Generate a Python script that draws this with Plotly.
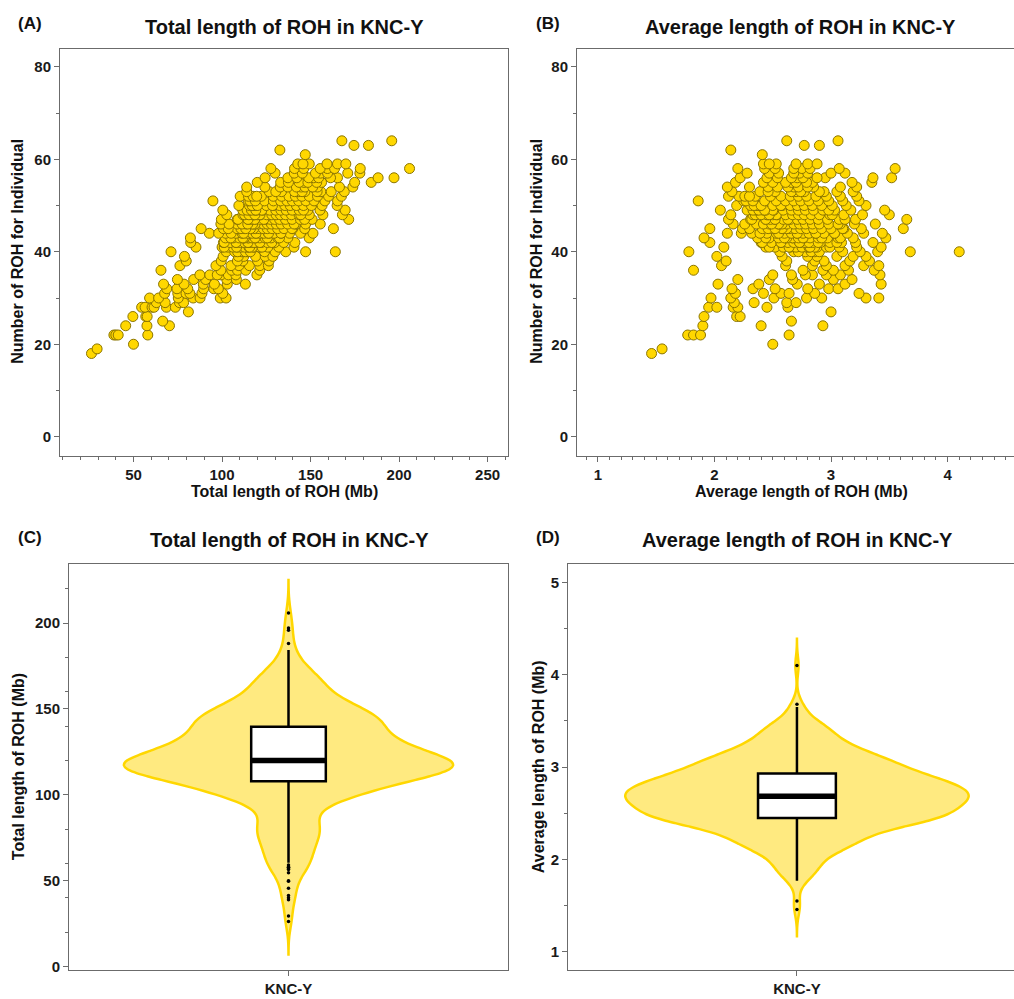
import numpy as np
import plotly.graph_objects as go

# ---- data: one entry per individual ----
# average ROH length (Mb) per individual
roh_avg = [
    1.46,
    1.55,
    2.50,
    1.77, 1.82, 1.88, 2.64,
    1.90, 2.40, 2.93,
    2.66,
    1.91, 2.19, 2.22,
    3.00,
    1.95, 2.02, 2.16, 2.20, 2.45, 2.63,
    2.17, 2.34, 2.62, 2.70,
    1.97, 2.14, 2.51, 2.79, 2.92, 3.30, 3.41,
    2.18, 2.42, 2.57, 2.64, 2.86, 3.24,
    2.15, 2.33, 2.52, 2.80, 2.98, 3.06,
    2.03, 2.38, 2.71, 2.90, 3.12, 3.43,
    2.20, 2.47, 2.67, 3.02, 3.18,
    2.84, 2.96, 2.50, 2.66, 2.78, 3.08, 3.42,
    1.82, 2.93, 3.02, 2.76, 3.15, 3.37,
    2.06, 2.96, 2.61, 2.84, 3.12, 3.28, 3.41,
    2.10, 2.94, 2.62, 2.86, 3.16, 3.33,
    2.02, 2.88, 2.58, 2.80, 3.05, 3.19, 3.30,
    1.78, 2.78, 2.86, 2.56, 2.68, 2.72, 2.83, 2.90, 3.10, 3.25, 3.40, 3.68, 4.10,
    2.08, 2.79, 2.44, 2.52, 2.59, 2.65, 2.70, 2.75, 2.81, 2.88, 2.96, 3.07, 3.22, 3.43,
    2.86, 2.47, 2.64, 2.82, 2.99,
    1.96, 2.74, 2.40, 2.49, 2.57, 2.63, 2.68, 2.73, 2.78, 2.84, 2.91, 2.99, 3.09, 3.21, 3.36,
    2.81, 2.41, 2.57, 2.73, 2.89, 3.05,
    1.91, 2.67, 2.37, 2.47, 2.55, 2.61, 2.67, 2.72, 2.77, 2.82, 2.89, 2.97, 3.06, 3.19, 3.47,
    2.62, 2.44, 2.60, 2.76, 2.92, 3.08,
    2.11, 2.32, 2.45, 2.53, 2.60, 2.66, 2.71, 2.76, 2.81, 2.87, 2.94, 3.03, 3.14, 3.28, 3.44,
    2.23, 2.39, 2.55, 2.71, 2.87, 3.03,
    1.96, 2.24, 2.41, 2.50, 2.58, 2.64, 2.69, 2.74, 2.79, 2.85, 2.92, 3.00, 3.11, 3.26, 3.62,
    2.30, 2.46, 2.62, 2.58, 2.52, 3.10,
    2.16, 2.36, 2.47, 2.55, 2.62, 2.68, 2.73, 2.78, 2.84, 2.90, 2.98, 3.08, 3.20, 3.38,
    2.26, 2.42, 2.58, 2.55, 2.49, 3.06,
    2.12, 2.31, 2.44, 2.52, 2.59, 2.65, 2.71, 2.76, 2.82, 2.89, 2.97, 3.07, 3.21, 3.65,
    2.32, 2.48, 2.63, 2.52, 2.44, 3.12,
    2.14, 2.33, 2.46, 2.54, 2.61, 2.67, 2.72, 2.77, 2.83, 2.90, 2.99, 3.11, 3.27, 3.50, 2.45, 2.50,
    2.35, 2.53, 2.40, 2.47, 3.01,
    2.05, 2.28, 2.42, 2.51, 2.59, 2.66, 2.72, 2.78, 2.85, 2.93, 3.03, 3.17, 3.46, 2.44, 2.36,
    2.33, 2.50, 2.38, 2.43, 2.98,
    2.19, 2.38, 2.50, 2.58, 2.65, 2.71, 2.77, 2.84, 2.92, 3.01, 3.13, 3.30, 2.31, 2.38,
    2.37, 2.57, 2.34, 2.40,
    1.86, 2.25, 2.43, 2.53, 2.61, 2.68, 2.74, 2.81, 2.89, 2.98, 3.10, 3.24, 2.27, 2.33,
    2.12, 2.35, 2.48, 2.57, 2.65, 2.72, 2.79, 2.87, 2.96, 3.08, 3.22, 2.21, 2.26, 2.30,
    2.15, 2.39, 2.52, 2.70, 2.77, 2.94, 3.05, 3.19, 2.46, 2.66, 2.74, 2.90,
    2.11, 2.30, 2.46, 2.68, 2.85, 3.08, 3.22, 2.54, 2.63, 2.72, 2.80,
    2.18, 2.42, 2.66, 2.84, 3.18, 3.35, 2.50, 2.61, 2.70, 2.79,
    2.22, 2.45, 2.71, 2.95, 3.36, 3.52, 2.54, 2.66, 2.76, 2.88,
    2.28, 2.47, 2.73, 3.00, 3.12, 2.55, 2.68, 2.80,
    2.20, 2.43, 2.75, 3.07, 3.55, 2.52, 2.68, 2.82,
    2.42, 2.53, 2.80, 2.88, 2.47, 2.70,
    2.41,
    2.14,
    2.77, 2.90,
    2.62, 3.06,
]

# number of ROH per individual (same order as roh_avg)
roh_count = [
    18,
    19,
    20,
    22, 22, 22, 22,
    24, 24, 24,
    25,
    26, 26, 26,
    27,
    28, 28, 28, 28, 28, 28,
    29, 29, 29, 29,
    30, 30, 30, 30, 30, 30, 30,
    31, 31, 31, 31, 31, 31,
    32, 32, 32, 32, 32, 32,
    33, 33, 33, 33, 33, 33,
    34, 34, 34, 34, 34,
    35, 35, 35, 35, 35, 35, 35,
    36, 36, 36, 36, 36, 36,
    37, 37, 37, 37, 37, 37, 37,
    38, 38, 38, 38, 38, 38,
    39, 39, 39, 39, 39, 39, 39,
    40, 40, 40, 40, 40, 40, 40, 40, 40, 40, 40, 40, 40,
    41, 41, 41, 41, 41, 41, 41, 41, 41, 41, 41, 41, 41, 41,
    41, 41, 41, 41, 41,
    42, 42, 42, 42, 42, 42, 42, 42, 42, 42, 42, 42, 42, 42, 42,
    42, 42, 42, 42, 42, 42,
    43, 43, 43, 43, 43, 43, 43, 43, 43, 43, 43, 43, 43, 43, 43,
    43, 43, 43, 43, 43, 43,
    44, 44, 44, 44, 44, 44, 44, 44, 44, 44, 44, 44, 44, 44, 44,
    44, 44, 44, 44, 44, 44,
    45, 45, 45, 45, 45, 45, 45, 45, 45, 45, 45, 45, 45, 45, 45,
    45, 45, 45, 45, 45, 45,
    46, 46, 46, 46, 46, 46, 46, 46, 46, 46, 46, 46, 46, 46,
    46, 46, 46, 46, 46, 46,
    47, 47, 47, 47, 47, 47, 47, 47, 47, 47, 47, 47, 47, 47,
    47, 47, 47, 47, 47, 47,
    48, 48, 48, 48, 48, 48, 48, 48, 48, 48, 48, 48, 48, 48, 48, 48,
    48, 48, 48, 48, 48,
    49, 49, 49, 49, 49, 49, 49, 49, 49, 49, 49, 49, 49, 49, 49,
    49, 49, 49, 49, 49,
    50, 50, 50, 50, 50, 50, 50, 50, 50, 50, 50, 50, 50, 50,
    50, 50, 50, 50,
    51, 51, 51, 51, 51, 51, 51, 51, 51, 51, 51, 51, 51, 51,
    52, 52, 52, 52, 52, 52, 52, 52, 52, 52, 52, 52, 52, 52,
    53, 53, 53, 53, 53, 53, 53, 53, 53, 53, 53, 53,
    54, 54, 54, 54, 54, 54, 54, 54, 54, 54, 54,
    55, 55, 55, 55, 55, 55, 55, 55, 55, 55,
    56, 56, 56, 56, 56, 56, 56, 56, 56, 56,
    57, 57, 57, 57, 57, 57, 57, 57,
    58, 58, 58, 58, 58, 58, 58, 58,
    59, 59, 59, 59, 59, 59,
    61,
    62,
    63, 63,
    64, 64,
]

panel_titles = ["Total length of ROH in KNC-Y", "Average length of ROH in KNC-Y",
                "Total length of ROH in KNC-Y", "Average length of ROH in KNC-Y"]
panel_tags = ["(A)", "(B)", "(C)", "(D)"]
group_label = "KNC-Y"

avg = np.array(roh_avg, dtype=float)
count = np.array(roh_count, dtype=float)
total = avg * count          # total ROH length = average length x number of ROH

W, H = 1014, 999
def px(x):
    return x / W
def py(y):
    return 1 - y / H

FONT = "Arial, Liberation Sans, sans-serif"
GOLD = "#FFD700"
EDGE = "#8B7500"
AXC = "#6b6b6b"

fig = go.Figure()
mk = dict(size=10, color=GOLD, line=dict(color=EDGE, width=1))
fig.add_trace(go.Scatter(x=total, y=count, mode="markers", marker=mk,
                         xaxis="x", yaxis="y", hoverinfo="skip"))
fig.add_trace(go.Scatter(x=avg, y=count, mode="markers", marker=mk,
                         xaxis="x2", yaxis="y2", hoverinfo="skip"))

def nrd0(v):
    v = np.asarray(v)
    sd = v.std(ddof=1)
    q75, q25 = np.percentile(v, [75, 25])
    return 0.9 * min(sd, (q75 - q25) / 1.34) * len(v) ** -0.2

shapes = []
for vals, xa, ya in [(total, "x3", "y3"), (avg, "x4", "y4")]:
    bw = nrd0(vals)
    pos = np.zeros(len(vals))
    fig.add_trace(go.Violin(x=pos, y=vals, xaxis=xa, yaxis=ya, bandwidth=bw,
                            spanmode="manual", span=[vals.min() - 3 * bw, vals.max() + 3 * bw],
                            width=0.75, scalemode="width", points=False,
                            fillcolor="#FFEA80", line=dict(color=GOLD, width=2.5),
                            box_visible=False, meanline_visible=False, hoverinfo="skip"))
    fig.add_trace(go.Box(x=pos, y=vals, xaxis=xa, yaxis=ya, width=0.17,
                         fillcolor="white", line=dict(color="black", width=2.5),
                         whiskerwidth=0, boxpoints="outliers", jitter=0, pointpos=0,
                         marker=dict(color="black", size=3.5), hoverinfo="skip"))
    med = float(np.median(vals))
    shapes.append(dict(type="line", xref=xa, yref=ya, x0=-0.085, x1=0.085, y0=med, y1=med,
                       line=dict(color="black", width=5.5)))

tickfont = dict(family=FONT, size=15, color="#1a1a1a", weight="bold")
common = dict(showgrid=False, zeroline=False, showline=True, linecolor=AXC, linewidth=1,
              ticks="outside", ticklen=5, tickwidth=1, tickcolor=AXC, tickfont=tickfont)

layout = dict(
    width=W, height=H, margin=dict(l=0, r=0, t=0, b=0),
    paper_bgcolor="white", plot_bgcolor="white", showlegend=False,
    xaxis=dict(domain=[px(60), px(508)], anchor="y", range=[8.5, 261.5],
               tickvals=[50, 100, 150, 200, 250], mirror=True,
               minor=dict(dtick=10, tick0=0, ticks="outside", ticklen=3, tickcolor=AXC), **common),
    yaxis=dict(domain=[py(458), py(49)], anchor="x", range=[-4.1, 83.9],
               tickvals=[0, 20, 40, 60, 80], mirror=True,
               minor=dict(dtick=10, tick0=0, ticks="outside", ticklen=3, tickcolor=AXC), **common),
    xaxis2=dict(domain=[px(577), 1.0], anchor="y2", range=[0.82, 4.57],
                tickvals=[1, 2, 3, 4], mirror=True,
                minor=dict(dtick=0.1, tick0=0, ticks="outside", ticklen=3, tickcolor=AXC), **common),
    yaxis2=dict(domain=[py(458), py(49)], anchor="x2", range=[-4.1, 83.9],
                tickvals=[0, 20, 40, 60, 80], mirror=False,
                minor=dict(dtick=10, tick0=0, ticks="outside", ticklen=3, tickcolor=AXC), **common),
    xaxis3=dict(domain=[px(69), px(508)], anchor="y3", range=[-0.5, 0.5],
                tickvals=[0], ticktext=[group_label], mirror=True, **common),
    yaxis3=dict(domain=[py(975), py(567)], anchor="x3", range=[-2.1, 234.3],
                tickvals=[0, 50, 100, 150, 200], mirror=True,
                minor=dict(dtick=20, tick0=0, ticks="outside", ticklen=3, tickcolor=AXC), **common),
    xaxis4=dict(domain=[px(568), 1.0], anchor="y4", range=[-0.5, 0.474],
                tickvals=[0], ticktext=[group_label], mirror=True, **common),
    yaxis4=dict(domain=[py(975), py(567)], anchor="x4", range=[0.803, 5.197],
                tickvals=[1, 2, 3, 4, 5], mirror=False,
                minor=dict(dtick=0.5, tick0=0, ticks="outside", ticklen=3, tickcolor=AXC), **common),
    shapes=shapes,
)
fig.update_layout(**layout)

def ann(text, x, y, size, angle=0):
    fig.add_annotation(text=text, x=px(x), y=py(y), xref="paper", yref="paper",
                       showarrow=False, textangle=angle, xanchor="center", yanchor="middle",
                       font=dict(family=FONT, size=size, color="#111", weight="bold"))

# panel titles and tags
ann(panel_titles[0], 284, 27, 20)
ann(panel_titles[1], 800, 27, 20)
ann(panel_titles[2], 289, 543, 20)
ann(panel_titles[3], 797, 543, 20)
ann(panel_tags[0], 30, 24, 17)
ann(panel_tags[1], 548, 24, 17)
ann(panel_tags[2], 30, 540, 17)
ann(panel_tags[3], 548, 540, 17)
# axis titles
ann("Total length of ROH (Mb)", 284, 494, 16)
ann("Average length of ROH (Mb)", 801, 494, 16)
ann("Number of ROH for Individual", 18, 253, 16, -90)
ann("Number of ROH for Individual", 537, 253, 16, -90)
ann("Total length of ROH (Mb)", 18, 771, 16, -90)
ann("Average length of ROH (Mb)", 538, 771, 16, -90)

fig.write_html("out.html", config={"displayModeBar": False},
               post_script="document.body.style.margin='0';document.body.style.overflow='hidden';")
